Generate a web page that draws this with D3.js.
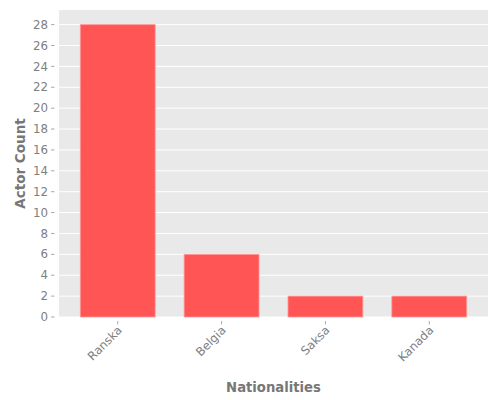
<!DOCTYPE html>
<html><head><meta charset="utf-8">
<script src="https://cdn.jsdelivr.net/npm/d3@7"></script>
<style>body{margin:0;background:#fff}svg{display:block;font-family:"DejaVu Sans",sans-serif}</style>
</head><body>
<svg id="c" width="500" height="400"></svg>
<script>
const categories = ["Ranska", "Belgia", "Saksa", "Kanada"];
const counts = [28, 6, 2, 2];
const yTicks = [0, 2, 4, 6, 8, 10, 12, 14, 16, 18, 20, 22, 24, 26, 28];
const xTitle = "Nationalities";
const yTitle = "Actor Count";

const svg = d3.select("#c");
const L = 59, R = 488, T = 10, B = 317;
const x = d3.scaleBand().domain(categories).range([L, R]).paddingInner(0.279).paddingOuter(0.205);
const y = d3.scaleLinear().domain([0, 29.4]).range([B, T]);
const grey = "#808080";

svg.append("rect").attr("x", L).attr("y", T).attr("width", R - L).attr("height", B - T).attr("fill", "#E9E9E9");

svg.append("g").selectAll("line").data(yTicks).join("line")
  .attr("x1", L).attr("x2", R).attr("y1", d => y(d)).attr("y2", d => y(d))
  .attr("stroke", "#fff").attr("stroke-width", 1);

// y ticks
const yg = svg.append("g");
yg.selectAll("line").data(yTicks).join("line")
  .attr("x1", 51).attr("x2", 54.5).attr("y1", d => y(d)).attr("y2", d => y(d))
  .attr("stroke", "#aaa").attr("stroke-width", 1);
yg.selectAll("text").data(yTicks).join("text")
  .attr("x", 48).attr("y", d => y(d)).attr("dy", "0.35em")
  .attr("text-anchor", "end").attr("font-size", 11.8).attr("fill", grey).text(d => d);

// bars
svg.append("g").selectAll("rect").data(counts).join("rect")
  .attr("x", (d, i) => x(categories[i])).attr("width", x.bandwidth())
  .attr("y", d => y(d)).attr("height", d => y(0) - y(d))
  .attr("fill", "#FF5555").attr("stroke", "#FF9a9a").attr("stroke-width", 0.8);

// x ticks
const xg = svg.append("g");
xg.selectAll("line").data(categories).join("line")
  .attr("x1", d => x(d) + x.bandwidth() / 2).attr("x2", d => x(d) + x.bandwidth() / 2)
  .attr("y1", 321).attr("y2", 324.5).attr("stroke", "#aaa").attr("stroke-width", 1);
xg.selectAll("text").data(categories).join("text")
  .attr("transform", d => `translate(${x(d) + x.bandwidth() / 2 + 5},${331}) rotate(-45)`)
  .attr("text-anchor", "end").attr("font-size", 11.8).attr("fill", grey).text(d => d);

svg.append("text").attr("x", (L + R) / 2).attr("y", 391.5).attr("text-anchor", "middle")
  .attr("font-size", 13.2).attr("font-weight", "bold").attr("fill", "#777").text(xTitle);
svg.append("text").attr("transform", `translate(25,${(T + B) / 2}) rotate(-90)`).attr("text-anchor", "middle")
  .attr("font-size", 13.5).attr("font-weight", "bold").attr("fill", "#777").text(yTitle);
</script>
</body></html>
